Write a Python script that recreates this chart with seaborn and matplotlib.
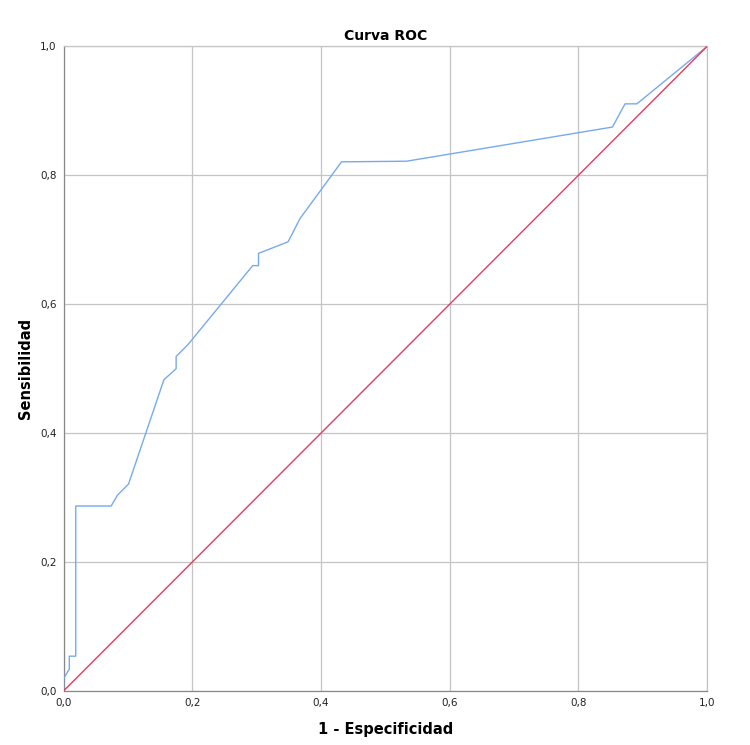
import matplotlib
matplotlib.use("Agg")
import matplotlib.pyplot as plt
import seaborn as sns
import pandas as pd

fpr = [0.0, 0.0, 0.009, 0.009, 0.019, 0.019, 0.074, 0.084, 0.101, 0.156, 0.175, 0.175,
       0.193, 0.294, 0.303, 0.303, 0.349, 0.3675, 0.432, 0.533, 0.853, 0.8726, 0.891, 1.0]
tpr = [0.0, 0.019, 0.034, 0.054, 0.054, 0.287, 0.287, 0.304, 0.321, 0.483, 0.500, 0.519,
       0.537, 0.660, 0.660, 0.679, 0.697, 0.733, 0.821, 0.822, 0.875, 0.911, 0.911, 1.0]
ref_x = [0.0, 1.0]
ref_y = [0.0, 1.0]
ticks = [0.0, 0.2, 0.4, 0.6, 0.8, 1.0]
tick_labels = ["0,0", "0,2", "0,4", "0,6", "0,8", "1,0"]

sns.set_style("white")
plt.rcParams["font.family"] = ["DejaVu Sans"]
plt.rcParams["text.color"] = "black"
plt.rcParams["axes.labelcolor"] = "black"

fig = plt.figure(figsize=(7.5, 7.45), dpi=100)
ax = fig.add_axes([0.0847, 0.0725, 0.858, 0.8651])

df = pd.DataFrame({"x": fpr, "y": tpr})
dref = pd.DataFrame({"x": ref_x, "y": ref_y})
sns.lineplot(data=df, x="x", y="y", sort=False, estimator=None, ax=ax,
             color="#78a9ee", linewidth=1.0, zorder=3)
sns.lineplot(data=dref, x="x", y="y", sort=False, estimator=None, ax=ax,
             color="#e53a5f", linewidth=1.0, zorder=4)

ax.set_xlim(0, 1)
ax.set_ylim(0, 1)
ax.set_xticks(ticks)
ax.set_yticks(ticks)
ax.set_xticklabels(tick_labels, fontsize=7.5)
ax.set_yticklabels(tick_labels, fontsize=7.5)
ax.grid(True, color="#c4c4c4", linewidth=0.9)
ax.set_axisbelow(True)
ax.tick_params(axis="both", length=3, width=0.8, color="#888888", pad=2, labelcolor="#222222")
for s in ["top", "right"]:
    ax.spines[s].set_color("#c4c4c4")
    ax.spines[s].set_linewidth(0.9)
for s in ["left", "bottom"]:
    ax.spines[s].set_color("#888888")
    ax.spines[s].set_linewidth(0.9)

ax.set_title("Curva ROC", fontsize=10, fontweight="bold", pad=5, color="black")
ax.set_xlabel("1 - Especificidad", fontsize=10.5, fontweight="bold", labelpad=10)
ax.set_ylabel("Sensibilidad", fontsize=10.5, fontweight="bold", labelpad=5)

fig.savefig("out.png", dpi=100)
